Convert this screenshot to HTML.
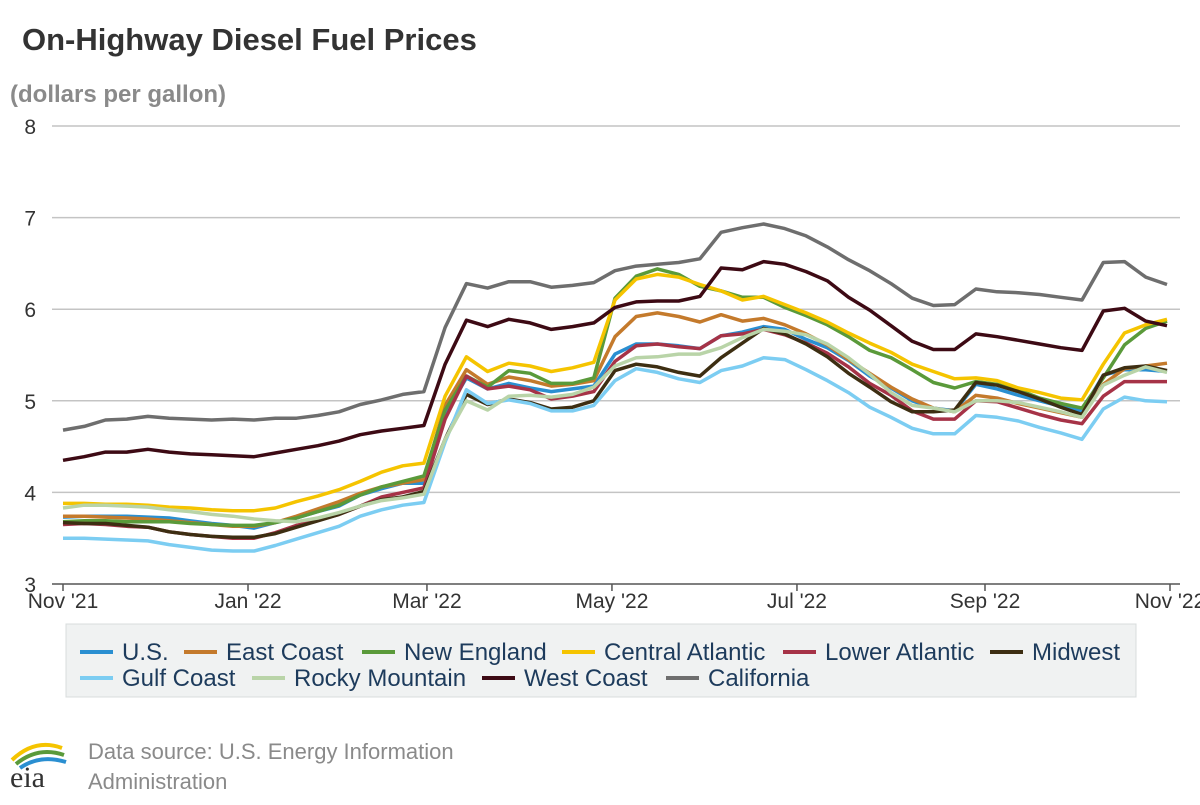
<!DOCTYPE html>
<html><head><meta charset="utf-8"><style>
body{margin:0;background:#fff;width:1200px;height:800px;overflow:hidden;font-family:"Liberation Sans",sans-serif}
</style></head><body>
<svg id="chart" width="1200" height="800" xmlns="http://www.w3.org/2000/svg" font-family="Liberation Sans, sans-serif">
<text x="22" y="50" font-size="31" font-weight="bold" fill="#333">On-Highway Diesel Fuel Prices</text>
<text x="10" y="102" font-size="24" font-weight="bold" fill="#8a8a8a">(dollars per gallon)</text>
<g id="grid"></g>
<g id="ticks"></g>
<g id="series"></g>
<g>
<rect x="66" y="624" width="1070" height="73" fill="#f0f2f2" stroke="#d8dcdc"/>
<g id="legend"></g>
</g>
<g>
<path d="M12 760 Q35 738 62 748" stroke="#f5c400" stroke-width="4" fill="none"/>
<path d="M16 764 Q38 746 64 755" stroke="#5a9a3a" stroke-width="4" fill="none"/>
<path d="M20 768 Q40 754 66 762" stroke="#2a8fd1" stroke-width="4" fill="none"/>
<text x="10" y="787" font-size="30" fill="#333" font-family="Liberation Serif, serif">eia</text>
</g>
<text x="88" y="759" font-size="22" fill="#8a8a8a">Data source: U.S. Energy Information</text>
<text x="88" y="789" font-size="22" fill="#8a8a8a">Administration</text>
</svg>
<script>
const seriesNames=["U.S.","East Coast","New England","Central Atlantic","Lower Atlantic","Midwest","Gulf Coast","Rocky Mountain","West Coast","California"];
const seriesColors=["#2a8fd1","#c47a2c","#5a9a3a","#f5c400","#a63347","#3d2e12","#7ccdf2","#b9d4a8","#3d0a14","#6e6e6e"];
const yTicks=[3,4,5,6,7,8];
const xTickLabels=["Nov '21","Jan '22","Mar '22","May '22","Jul '22","Sep '22","Nov '22"];
const xTickDays=[0,61,120,181,242,304,365];
const usVals=[3.73,3.74,3.74,3.74,3.73,3.72,3.69,3.66,3.64,3.61,3.67,3.72,3.79,3.85,3.97,4.04,4.10,4.10,4.85,5.25,5.13,5.19,5.14,5.10,5.13,5.16,5.51,5.62,5.62,5.60,5.57,5.71,5.75,5.81,5.78,5.67,5.58,5.44,5.27,5.14,5.00,4.92,4.89,5.18,5.13,5.06,5.00,4.94,4.89,5.28,5.34,5.34,5.32];
const eastVals=[3.74,3.74,3.73,3.72,3.71,3.69,3.67,3.65,3.63,3.63,3.67,3.74,3.82,3.90,3.99,4.06,4.10,4.14,4.95,5.34,5.18,5.26,5.22,5.16,5.18,5.22,5.70,5.92,5.96,5.92,5.86,5.94,5.87,5.90,5.83,5.73,5.61,5.45,5.30,5.15,5.02,4.92,4.88,5.06,5.03,4.97,4.92,4.87,4.82,5.18,5.35,5.38,5.41];
const newEnglandVals=[3.68,3.69,3.69,3.68,3.68,3.68,3.66,3.65,3.64,3.64,3.67,3.72,3.79,3.86,3.97,4.06,4.12,4.18,4.90,5.27,5.15,5.33,5.30,5.19,5.19,5.25,6.12,6.36,6.44,6.38,6.25,6.20,6.13,6.13,6.02,5.93,5.83,5.70,5.55,5.47,5.34,5.20,5.14,5.21,5.18,5.12,5.03,4.97,4.92,5.25,5.61,5.79,5.87];
const centralAtlVals=[3.88,3.88,3.87,3.87,3.86,3.84,3.83,3.81,3.80,3.80,3.83,3.90,3.96,4.03,4.12,4.22,4.29,4.32,5.05,5.48,5.32,5.41,5.38,5.32,5.36,5.42,6.10,6.33,6.38,6.35,6.27,6.20,6.10,6.14,6.05,5.96,5.86,5.74,5.63,5.53,5.40,5.32,5.24,5.25,5.22,5.14,5.09,5.03,5.01,5.40,5.74,5.83,5.89];
const lowerAtlVals=[3.65,3.66,3.65,3.63,3.62,3.57,3.54,3.52,3.50,3.50,3.56,3.64,3.70,3.76,3.85,3.95,4.00,4.05,4.80,5.27,5.13,5.16,5.12,5.02,5.05,5.10,5.43,5.60,5.62,5.59,5.57,5.71,5.73,5.78,5.72,5.63,5.52,5.37,5.19,5.06,4.89,4.80,4.80,5.00,4.99,4.92,4.85,4.79,4.75,5.05,5.21,5.21,5.21];
const midwestVals=[3.67,3.66,3.66,3.64,3.62,3.57,3.54,3.52,3.51,3.51,3.55,3.62,3.69,3.76,3.85,3.92,3.95,4.01,4.58,5.07,4.96,5.02,4.98,4.91,4.93,5.00,5.33,5.40,5.37,5.31,5.27,5.47,5.63,5.79,5.73,5.62,5.48,5.30,5.15,4.99,4.88,4.88,4.90,5.20,5.17,5.10,5.02,4.93,4.85,5.28,5.36,5.38,5.33];
const gulfVals=[3.50,3.50,3.49,3.48,3.47,3.43,3.40,3.37,3.36,3.36,3.42,3.49,3.56,3.63,3.74,3.81,3.86,3.89,4.55,5.12,4.97,5.01,4.97,4.89,4.89,4.95,5.22,5.35,5.31,5.24,5.20,5.33,5.38,5.47,5.45,5.34,5.22,5.09,4.93,4.82,4.70,4.64,4.64,4.84,4.82,4.78,4.71,4.65,4.58,4.91,5.04,5.00,4.99];
const rockyVals=[3.83,3.86,3.86,3.85,3.84,3.81,3.79,3.76,3.74,3.71,3.69,3.68,3.72,3.78,3.85,3.91,3.94,3.98,4.58,5.00,4.90,5.05,5.06,5.04,5.07,5.15,5.38,5.47,5.48,5.51,5.51,5.58,5.69,5.78,5.76,5.72,5.62,5.47,5.29,5.09,4.95,4.92,4.88,5.00,5.00,4.98,4.93,4.88,4.82,5.17,5.28,5.37,5.31];
const westVals=[4.35,4.39,4.44,4.44,4.47,4.44,4.42,4.41,4.40,4.39,4.43,4.47,4.51,4.56,4.63,4.67,4.70,4.73,5.40,5.88,5.81,5.89,5.85,5.78,5.81,5.85,6.02,6.08,6.09,6.09,6.14,6.45,6.43,6.52,6.49,6.41,6.31,6.13,5.99,5.82,5.65,5.56,5.56,5.73,5.70,5.66,5.62,5.58,5.55,5.98,6.01,5.87,5.82];
const californiaVals=[4.68,4.72,4.79,4.80,4.83,4.81,4.80,4.79,4.80,4.79,4.81,4.81,4.84,4.88,4.96,5.01,5.07,5.10,5.80,6.28,6.23,6.30,6.30,6.24,6.26,6.29,6.42,6.47,6.49,6.51,6.55,6.84,6.89,6.93,6.88,6.80,6.68,6.54,6.42,6.28,6.12,6.04,6.05,6.22,6.19,6.18,6.16,6.13,6.10,6.51,6.52,6.35,6.27];
const allSeries=[usVals,eastVals,newEnglandVals,centralAtlVals,lowerAtlVals,midwestVals,gulfVals,rockyVals,westVals,californiaVals];

const NS="http://www.w3.org/2000/svg";
const X0=63,X1=1170,Y0=584,Y1=126;
const xDay=d=>X0+(X1-X0)*d/365;
const xWeek=i=>xDay(i*7);
const yVal=v=>Y0-(v-3)/(8-3)*(Y0-Y1);
function mk(tag,attrs,parent){const e=document.createElementNS(NS,tag);for(const k in attrs)e.setAttribute(k,attrs[k]);parent.appendChild(e);return e;}
const grid=document.getElementById('grid'),ticks=document.getElementById('ticks'),ser=document.getElementById('series'),leg=document.getElementById('legend');
yTicks.forEach(v=>{
  if(v>3){const l=mk('line',{x1:52,x2:1180,y1:yVal(v),y2:yVal(v),stroke:'#c4c4c4','stroke-width':1.5},grid);
  
  }
  const t=mk('text',{x:36,y:yVal(v)+8,'font-size':21,fill:'#333','text-anchor':'end'},ticks);
  t.textContent=v;
  
  
});
const ax=mk('line',{x1:52,x2:1180,y1:Y0,y2:Y0,stroke:'#555','stroke-width':1.5},grid);


xTickLabels.forEach((lab,i)=>{
  const x=xDay(xTickDays[i]);
  const tk=mk('line',{x1:x,x2:x,y1:Y0,y2:Y0+7,stroke:'#555','stroke-width':1.5},ticks);
  
  
  const t=mk('text',{x:x,y:608,'font-size':21,fill:'#333','text-anchor':'middle'},ticks);
  t.textContent=lab;
  
  
});
allSeries.forEach((vals,s)=>{
  const d=vals.map((v,i)=>(i?'L':'M')+xWeek(i).toFixed(1)+' '+yVal(v).toFixed(1)).join(' ');
  const p=mk('path',{d:d,fill:'none',stroke:seriesColors[s],'stroke-width':3.5,'stroke-linejoin':'round'},ser);
  
  
});
const legX=[80,184,362,562,783,990,80,252,482,666];
seriesNames.forEach((n,s)=>{
  const row=s<6?0:1,x=legX[s],y=row?678:652;
  const g=mk('g',{},leg);
  
  
  mk('line',{x1:x,x2:x+33,y1:y,y2:y,stroke:seriesColors[s],'stroke-width':4},g);
  const t=mk('text',{x:x+42,y:y+8,'font-size':24,fill:'#1d3b5c'},g);
  t.textContent=n;
});
</script>
</body></html>
